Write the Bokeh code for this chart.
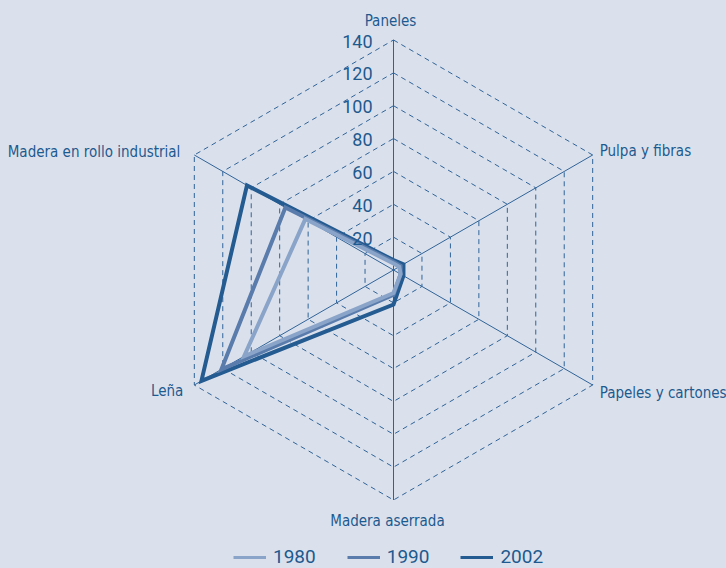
import math
from bokeh.plotting import figure
from bokeh.models import Range1d, ColumnDataSource, Legend, LegendItem
from bokeh.core.properties import value
from bokeh.embed import file_html
from bokeh.resources import INLINE

# ---- data ----
categories = ["Paneles", "Pulpa y fibras", "Papeles y cartones",
              "Madera aserrada", "Leña", "Madera en rollo industrial"]
angles_deg = [90, 30, -30, -90, -150, 150]
ticks = [20, 40, 60, 80, 100, 120, 140]
years = ["1980", "1990", "2002"]
v1980 = [4, 4, 5, 14, 105, 62]
v1990 = [5, 5, 5, 15, 121, 76]
v2002 = [6, 7, 7, 21, 135, 103]

# ---- style ----
BG = "#dbe1ec"
TXT = "#1d5a8f"
GRID = "#2f6398"
colors = {"1980": "#8aa4c9", "1990": "#5a7cac", "2002": "#245b91"}
series = {"1980": v1980, "1990": v1990, "2002": v2002}

W, H = 726, 568
cx, cy = 393, 269.5
RMAX = 140
s = 230 / RMAX

p = figure(width=W, height=H,
           x_range=Range1d(-cx / s, (W - cx) / s),
           y_range=Range1d(-(H - cy) / s, cy / s),
           output_backend="svg", toolbar_location=None,
           x_axis_location=None, y_axis_location=None, min_border=0)
p.grid.visible = False
p.outline_line_color = None
p.background_fill_color = BG
p.border_fill_color = BG

rad = [math.radians(a) for a in angles_deg]

# legend swatch renderers (zero-length, invisible in the plot)
leg_r = {yr: p.line([0, 0], [0, 0], line_color=colors[yr], line_width=3,
                    line_cap="butt") for yr in years}

# grid hexagons
gx, gy = [], []
for t in ticks:
    gx.append([t * math.cos(a) for a in rad] + [t * math.cos(rad[0])])
    gy.append([t * math.sin(a) for a in rad] + [t * math.sin(rad[0])])
p.multi_line(gx, gy, line_color=GRID, line_width=1, line_dash="5 4")

# spokes
p.segment(x0=[0] * 6, y0=[0] * 6,
          x1=[RMAX * math.cos(a) for a in rad],
          y1=[RMAX * math.sin(a) for a in rad],
          line_color=GRID, line_width=1)

# series
for yr in ["2002", "1990", "1980"]:
    vals = series[yr]
    xs = [v * math.cos(a) for v, a in zip(vals, rad)]
    ys = [v * math.sin(a) for v, a in zip(vals, rad)]
    xs.append(xs[0]); ys.append(ys[0])
    p.line(xs, ys, line_color=colors[yr], line_width=4, line_join="miter")

# tick labels
p.text(x=[0] * len(ticks), y=ticks, text=[str(t) for t in ticks],
       text_align="right", text_baseline="middle", x_offset=-21, y_offset=1,
       text_font=value("Roboto"), text_font_size="18px", text_color=TXT)

# category labels
lab_align = ["center", "left", "left", "center", "right", "right"]
lab_xoff = [-3, 7, 7, -6, -11, -14]
lab_yoff = [-19, -4, 8, 21, 6, -3]
lsrc = ColumnDataSource(dict(
    x=[RMAX * math.cos(a) for a in rad],
    y=[RMAX * math.sin(a) for a in rad],
    text=categories, align=lab_align, xo=lab_xoff, yo=lab_yoff))
p.text(x="x", y="y", text="text", source=lsrc, text_align="align",
       text_baseline="middle", x_offset="xo", y_offset="yo",
       text_font=value("DejaVu Sans Condensed"), text_font_size="15px",
       text_color=TXT)

legend = Legend(items=[LegendItem(label=yr, renderers=[leg_r[yr]]) for yr in years],
                orientation="horizontal", location=(233, 0),
                glyph_width=33, glyph_height=18, label_standoff=7, spacing=31,
                padding=0, margin=0, border_line_alpha=0, background_fill_alpha=0,
                label_text_font="Roboto", label_text_font_size="19px",
                label_text_color=TXT)
p.add_layout(legend)

template = """{% block postamble %}<style>html, body { background-color: #dbe1ec; }</style>{% endblock %}"""
open("out.html", "w").write(file_html(p, INLINE, template=template))
